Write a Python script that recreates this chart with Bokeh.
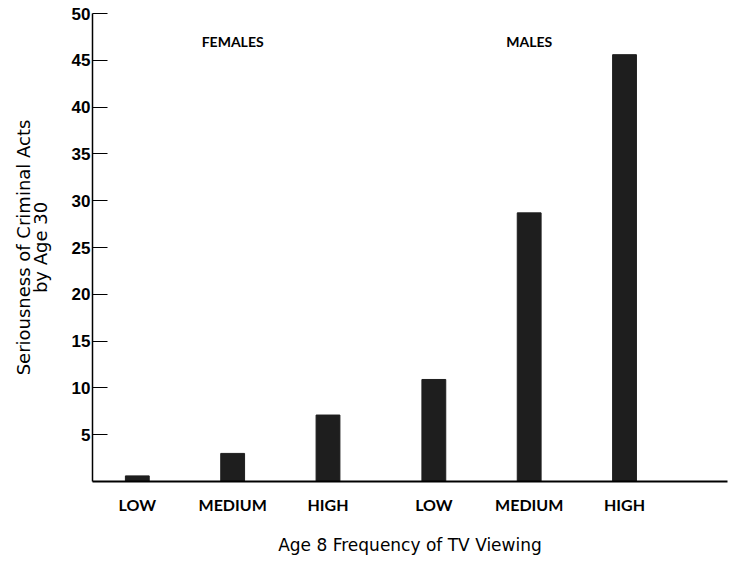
from bokeh.plotting import figure
from bokeh.models import Range1d, FixedTicker, Label
from bokeh.embed import file_html
from bokeh.resources import INLINE

# ---- data ----
groups = ["FEMALES", "MALES"]
levels = ["LOW", "MEDIUM", "HIGH"]
female_values = [0.6, 3.0, 7.1]
male_values = [10.9, 28.7, 45.6]
y_ticks = [5, 10, 15, 20, 25, 30, 35, 40, 45, 50]
y_label = "Seriousness of Criminal Acts\nby Age 30"
x_label = "Age 8 Frequency of TV Viewing"

# ---- layout of categories on the x scale ----
GROUP_GAP = 0.11
values_by_group = [female_values, male_values]
xs, tops, names = [], [], []
group_centers = []
for gi, g in enumerate(groups):
    base = gi * (len(levels) + GROUP_GAP)
    for li, lv in enumerate(levels):
        xs.append(base + li)
        tops.append(values_by_group[gi][li])
        names.append(lv)
    group_centers.append(base + (len(levels) - 1) / 2)

p = figure(width=735, height=560, output_backend="svg", toolbar_location=None,
           x_range=Range1d(-0.47, 6.19), y_range=Range1d(0, 50),
           min_border_left=92, min_border_right=8, min_border_top=13, min_border_bottom=79)
p.outline_line_color = None
p.xgrid.visible = False
p.ygrid.visible = False
p.background_fill_color = "white"
p.border_fill_color = "white"

p.vbar(x=xs, top=tops, width=0.25, bottom=0, fill_color="#1e1e1e", line_color="#1e1e1e")

# x axis
xa = p.xaxis[0]
xa.ticker = FixedTicker(ticks=xs)
xa.major_label_overrides = {x: n for x, n in zip(xs, names)}
xa.major_tick_line_color = None
xa.major_tick_out = 0
xa.major_tick_in = 0
xa.minor_tick_line_color = None
xa.major_label_standoff = 13
xa.major_label_text_font = "Lato"
xa.major_label_text_font_style = "bold"
xa.major_label_text_font_size = "16px"
xa.major_label_text_color = "black"
xa.major_label_text_line_height = 1.0
xa.axis_line_width = 2
xa.axis_line_color = "black"
xa.axis_label = x_label
xa.axis_label_text_font = "DejaVu Sans"
xa.axis_label_text_font_style = "normal"
xa.axis_label_text_font_size = "17px"
xa.axis_label_text_line_height = 1.0
xa.axis_label_standoff = 18
xa.axis_label_text_color = "black"

# y axis
ya = p.yaxis[0]
ya.ticker = FixedTicker(ticks=y_ticks)
ya.major_tick_in = 15
ya.major_tick_out = 0
ya.minor_tick_line_color = None
ya.major_tick_line_width = 1.2
ya.major_label_standoff = 2
ya.major_label_text_font = "Liberation Sans"
ya.major_label_text_font_style = "bold"
ya.major_label_text_font_size = "17px"
ya.major_label_text_color = "black"
ya.axis_line_width = 1.5
ya.axis_line_color = "black"
ya.axis_label = y_label
ya.axis_label_text_font = "DejaVu Sans"
ya.axis_label_text_font_style = "normal"
ya.axis_label_text_font_size = "18px"
ya.axis_label_text_line_height = 0.8
ya.axis_label_standoff = 18
ya.axis_label_text_color = "black"

# group labels
for gname, gx in zip(groups, group_centers):
    p.add_layout(Label(x=gx, y=47, text=gname, text_align="center", text_baseline="middle",
                       text_font="Lato", text_font_style="bold", text_font_size="14px",
                       text_color="black"))

open("out.html", "w").write(file_html(p, INLINE))
